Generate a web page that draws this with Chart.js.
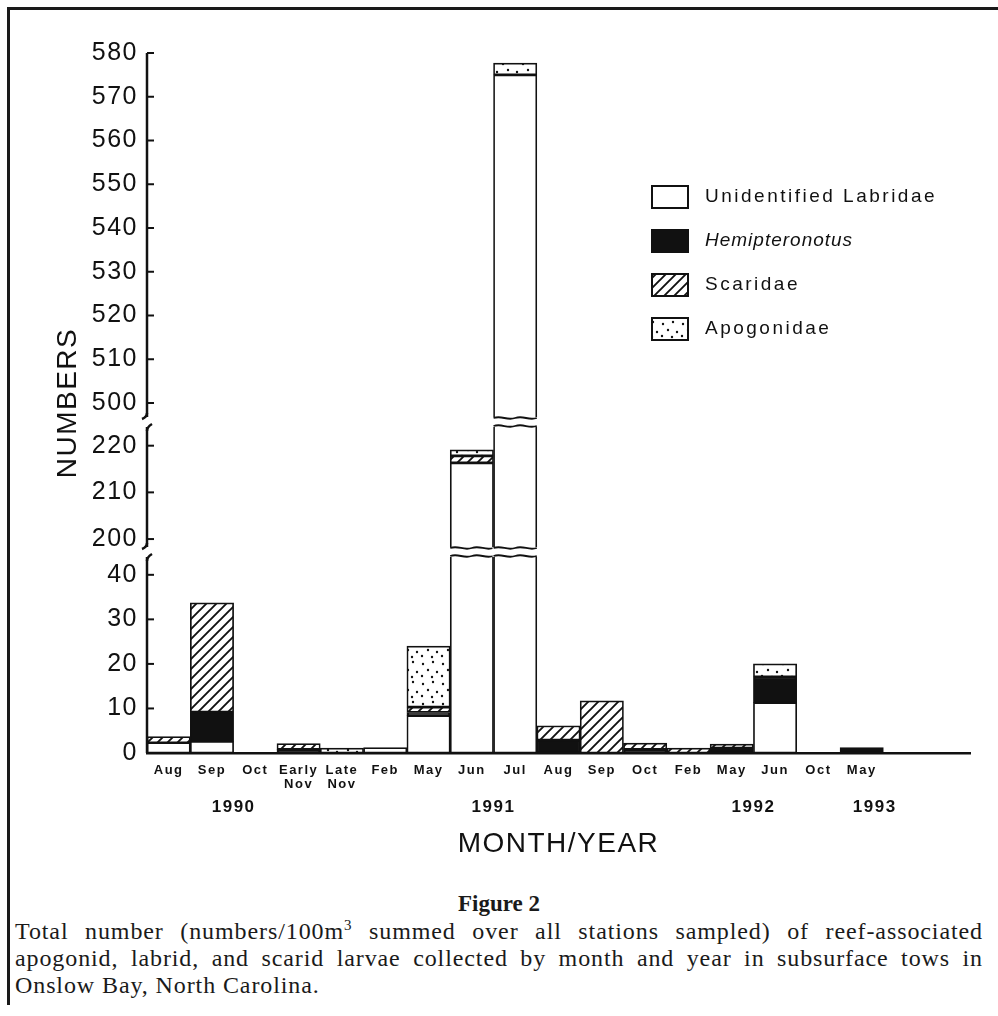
<!DOCTYPE html>
<html lang="en">
<head>
<meta charset="UTF-8">
<title>Figure 2</title>
<script src="https://cdn.jsdelivr.net/npm/chart.js"></script>
<style>
  body { margin: 0; background: #fff; }
  #page { position: absolute; left: 0; top: 0; width: 998px; height: 1016px; overflow: hidden; }
  #box { position: absolute; left: 7px; top: 7px; width: 991px; height: 995px; border-top: 3px solid #1a1a1a; border-left: 3px solid #1a1a1a; }
  #c { position: absolute; left: 0; top: 0; }
  .cap { position: absolute; left: 15px; width: 968px; font-family: 'Liberation Serif', serif; font-size: 24px; line-height: 26px; color: #1a1a1a; letter-spacing: 0.9px; white-space: nowrap; }
  .just { text-align: justify; text-align-last: justify; white-space: normal; }
  #figTitle { position: absolute; left: 0; width: 998px; top: 891px; text-align: center; font: bold 23px 'Liberation Serif', serif; color: #1a1a1a; }
  sup { font-size: 15px; line-height: 0; }
</style>
</head>
<body>
<div id="page">
  <div id="box"></div>
  <canvas id="c" width="998" height="870"></canvas>
  <div id="figTitle">Figure 2</div>
  <div class="cap just" style="top:918px">Total number (numbers/100m<sup>3</sup> summed over all stations sampled) of reef-associated</div>
  <div class="cap just" style="top:945px">apogonid, labrid, and scarid larvae collected by month and year in subsurface tows in</div>
  <div class="cap" style="top:972px">Onslow Bay, North Carolina.</div>
</div>
<script>
// categories (two unlabeled slots at the end of the axis)
const months = ['Aug', 'Sep', 'Oct', ['Early', 'Nov'], ['Late', 'Nov'], 'Feb', 'May', 'Jun', 'Jul',
                'Aug', 'Sep', 'Oct', 'Feb', 'May', 'Jun', 'Oct', 'May', '', ''];
const yearLabels = ['1990', '1991', '1992', '1993'];
const yearAt = [2, 8, 14, 16.8];   // in category units from the left edge
const yTicks = [0, 10, 20, 30, 40, 200, 210, 220, 500, 510, 520, 530, 540, 550, 560, 570, 580];

const seriesNames = ['Unidentified Labridae', 'Hemipteronotus', 'Scaridae', 'Apogonidae'];
const labridae       = [2.3, 2.6, null, null, null, 1.2, 8.4, 216.3, 575, null, null, null, null, null, 11.3, null, null, null, null];
const hemipteronotus = [null, 6.6, null, 0.8, null, null, 0.7, null, null, 2.9, null, 0.8, null, 1.1, 5.8, null, 1.2, null, null];
const scaridae       = [1.4, 24.5, null, 1.3, null, null, 1.2, 1.5, null, 3.2, 11.7, 1.4, 1.1, 0.9, null, null, null, null, null];
const apogonidae     = [null, null, null, null, 1.1, null, 13.7, 1.3, 2.7, null, null, null, null, null, 2.9, null, null, null, null];

// broken y axis: [value, fraction of axis height]
const yBreaks = [[0, 0], [44, 0.28], [198.3, 0.2943], [224, 0.4657], [496.8, 0.48], [580, 1]];

function valueToDecimal(v) {
  for (let i = 1; i < yBreaks.length; i++) {
    const [v0, d0] = yBreaks[i - 1], [v1, d1] = yBreaks[i];
    if (v <= v1 || i === yBreaks.length - 1) return d0 + (v - v0) / (v1 - v0) * (d1 - d0);
  }
}
function decimalToValue(d) {
  for (let i = 1; i < yBreaks.length; i++) {
    const [v0, d0] = yBreaks[i - 1], [v1, d1] = yBreaks[i];
    if (d <= d1 || i === yBreaks.length - 1) return v0 + (d - d0) / (d1 - d0) * (v1 - v0);
  }
}

class BrokenLinearScale extends Chart.LinearScale {
  getPixelForValue(value) {
    return this.getPixelForDecimal(valueToDecimal(value));
  }
  getValueForPixel(pixel) {
    return decimalToValue(this.getDecimalForPixel(pixel));
  }
}
BrokenLinearScale.id = 'brokenLinear';
BrokenLinearScale.defaults = Chart.LinearScale.defaults;
Chart.register(BrokenLinearScale);

function makeHatch() {
  const s = 10;
  const c = document.createElement('canvas');
  c.width = s; c.height = s;
  const g = c.getContext('2d');
  g.fillStyle = '#fff';
  g.fillRect(0, 0, s, s);
  g.strokeStyle = '#111';
  g.lineWidth = 1.9;
  g.beginPath();
  g.moveTo(0, s); g.lineTo(s, 0);
  g.moveTo(-1, 1); g.lineTo(1, -1);
  g.moveTo(s - 1, s + 1); g.lineTo(s + 1, s - 1);
  g.stroke();
  return g.createPattern(c, 'repeat');
}

function makeDots() {
  const s = 20;
  const c = document.createElement('canvas');
  c.width = s; c.height = s;
  const g = c.getContext('2d');
  g.fillStyle = '#fff';
  g.fillRect(0, 0, s, s);
  g.fillStyle = '#111';
  [[3, 4], [13, 2], [8, 10], [17, 12], [2, 16], [12, 17]].forEach(([x, y]) => {
    g.beginPath(); g.arc(x, y, 1.2, 0, Math.PI * 2); g.fill();
  });
  return g.createPattern(c, 'repeat');
}

const fills = ['#ffffff', '#111111', makeHatch(), makeDots()];
const seriesData = [labridae, hemipteronotus, scaridae, apogonidae];

const datasets = seriesNames.map((name, k) => ({
  label: name,
  data: seriesData[k],
  backgroundColor: fills[k],
  borderColor: '#111',
  borderWidth: 1.7,
  borderSkipped: false,
  barPercentage: 1,
  categoryPercentage: 1,
  xAxisID: 'x',
  yAxisID: 'y'
}));

const totals = months.map((m, i) => seriesData.reduce((s, arr) => s + (arr[i] || 0), 0));

function wavy(ctx, x0, x1, y) {
  const w = x1 - x0;
  ctx.beginPath();
  ctx.moveTo(x0, y);
  ctx.bezierCurveTo(x0 + w * 0.2, y - 3, x0 + w * 0.3, y + 3, x0 + w * 0.5, y);
  ctx.bezierCurveTo(x0 + w * 0.7, y - 3, x0 + w * 0.8, y + 3, x1, y);
  ctx.stroke();
}

const decor = {
  id: 'decor',
  beforeDraw(chart) {
    chart.ctx.letterSpacing = '1.5px';
  },
  afterDatasetsDraw(chart) {
    const ctx = chart.ctx;
    const xs = chart.scales.x, ys = chart.scales.y;
    const bw = xs.getPixelForValue(1) - xs.getPixelForValue(0);
    const gaps = [[yBreaks[1][0], yBreaks[2][0]], [yBreaks[3][0], yBreaks[4][0]]];
    ctx.save();
    ctx.strokeStyle = '#111';
    ctx.lineWidth = 1.8;
    // breaks through the tall bars
    totals.forEach((t, i) => {
      const cx = xs.getPixelForValue(i);
      const x0 = cx - bw / 2, x1 = cx + bw / 2;
      gaps.forEach(([lo, hi]) => {
        if (t <= hi) return;
        const yTop = ys.getPixelForValue(hi), yBot = ys.getPixelForValue(lo);
        ctx.fillStyle = '#fff';
        ctx.fillRect(x0 - 1, yTop, bw + 2, yBot - yTop);
        wavy(ctx, x0, x1, yTop + 1);
        wavy(ctx, x0, x1, yBot - 1);
      });
    });
    // y axis in three pieces, with inward ticks
    const ax = chart.chartArea.left;
    ctx.lineWidth = 2.5;
    for (let s = 0; s < yBreaks.length; s += 2) {
      const pLow = ys.getPixelForValue(yBreaks[s][0]);
      const pHigh = ys.getPixelForValue(yBreaks[s + 1][0]);
      ctx.beginPath();
      ctx.moveTo(ax, pLow);
      ctx.lineTo(ax, pHigh);
      ctx.stroke();
      if (s > 0) {
        ctx.beginPath();
        ctx.moveTo(ax, pLow - 4);
        ctx.quadraticCurveTo(ax, pLow, ax - 5, pLow + 2);
        ctx.stroke();
      }
      if (s + 1 < yBreaks.length - 1) {
        ctx.beginPath();
        ctx.moveTo(ax, pHigh + 4);
        ctx.quadraticCurveTo(ax, pHigh, ax + 5, pHigh - 3);
        ctx.stroke();
      }
    }
    ctx.lineWidth = 2;
    yTicks.forEach(v => {
      const p = ys.getPixelForValue(v);
      ctx.beginPath();
      ctx.moveTo(ax, p);
      ctx.lineTo(ax + 7, p);
      ctx.stroke();
    });
    ctx.restore();
  },
  afterDraw(chart) {
    const ctx = chart.ctx;
    ctx.save();
    seriesNames.forEach((name, k) => {
      const yc = 197 + k * 44;
      ctx.fillStyle = fills[k];
      ctx.fillRect(652, yc - 11, 36, 22);
      ctx.strokeStyle = '#111';
      ctx.lineWidth = 2;
      ctx.strokeRect(652, yc - 11, 36, 22);
      ctx.fillStyle = '#111';
      ctx.font = (k === 1 ? 'italic ' : '') + '19px "Liberation Sans", Arial, sans-serif';
      ctx.letterSpacing = k === 1 ? '1px' : '2.5px';
      ctx.textBaseline = 'middle';
      ctx.textAlign = 'left';
      ctx.fillText(name, 705, yc);
    });
    ctx.restore();
    ctx.letterSpacing = '0px';
  }
};

Chart.defaults.font.family = '"Liberation Sans", Arial, sans-serif';
Chart.defaults.color = '#111';

new Chart(document.getElementById('c').getContext('2d'), {
  type: 'bar',
  data: { labels: months, datasets: datasets },
  plugins: [decor],
  options: {
    responsive: false,
    animation: false,
    layout: { padding: { top: 53, right: 28, left: 0, bottom: 0 } },
    plugins: { legend: { display: false }, tooltip: { enabled: false } },
    scales: {
      x: {
        type: 'category',
        stacked: true,
        offset: true,
        weight: 0,
        grid: { display: false, drawTicks: false },
        border: { display: true, color: '#111', width: 2.5 },
        ticks: { autoSkip: false, maxRotation: 0, minRotation: 0, padding: 10,
                 font: { size: 13, weight: 'bold', lineHeight: 1.1 } },
        afterFit: s => { s.height = 40; }
      },
      x2: {
        type: 'linear',
        position: 'bottom',
        offset: false,
        weight: 1,
        min: 0,
        max: months.length,
        grid: { display: false, drawTicks: false, offset: false },
        border: { display: false },
        afterBuildTicks: s => { s.ticks = yearAt.map(v => ({ value: v })); },
        ticks: { callback: (v, i) => yearLabels[i], padding: 4, font: { size: 17, weight: 'bold' } },
        title: { display: true, text: 'MONTH/YEAR', font: { size: 28 }, padding: { bottom: 9 } },
        afterFit: s => { s.height = 77; }
      },
      y: {
        type: 'brokenLinear',
        stacked: true,
        min: 0,
        max: 580,
        grid: { display: false, drawTicks: false },
        border: { display: false },
        afterBuildTicks: s => { s.ticks = yTicks.map(v => ({ value: v })); },
        ticks: { autoSkip: false, callback: v => String(v), padding: 9, font: { size: 25 } },
        title: { display: true, text: 'NUMBERS', font: { size: 28 }, padding: { top: 51 } },
        afterFit: s => { s.width = 147; }
      }
    }
  }
});
</script>
</body>
</html>
